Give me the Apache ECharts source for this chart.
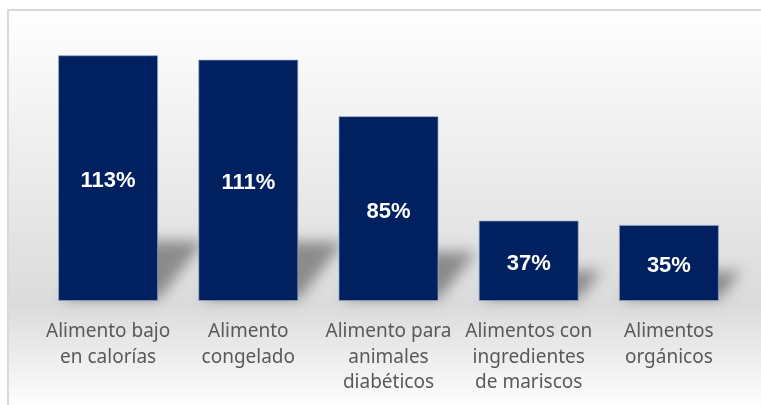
<!DOCTYPE html>
<html>
<head>
<meta charset="utf-8">
<script src="https://cdn.jsdelivr.net/npm/echarts@6/dist/echarts.min.js"></script>
<style>html,body{margin:0;padding:0;background:#fff;}#c{width:761px;height:405px;}</style>
</head>
<body>
<div id="c"></div>
<script>
const categories = [
  "Alimento bajo\nen calorías",
  "Alimento\ncongelado",
  "Alimento para\nanimales\ndiabéticos",
  "Alimentos con\ningredientes\nde mariscos",
  "Alimentos\norgánicos"
];
const values = [113, 111, 85, 37, 35];

const chart = echarts.init(document.getElementById('c'));
const BAR_W = 100;
const OFF = 3000;

chart.setOption({
  animation: false,
  graphic: [{
    type: 'rect',
    z: -10,
    silent: true,
    shape: { x: 8, y: 10, width: 780, height: 420 },
    style: {
      fill: {
        type: 'linear', x: 0, y: 0, x2: 0, y2: 1,
        colorStops: [
          { offset: 0, color: '#ffffff' },
          { offset: 0.45, color: '#e8e8e8' },
          { offset: 0.7, color: '#dbdbdb' },
          { offset: 0.95, color: '#ffffff' },
          { offset: 1, color: '#ffffff' }
        ]
      },
      stroke: '#d9d9d9',
      lineWidth: 2
    }
  }],
  grid: { left: 38, right: 22, top: 40, bottom: 104 },
  xAxis: {
    type: 'category',
    data: categories,
    axisLine: { show: false },
    axisTick: { show: false },
    axisLabel: {
      interval: 0,
      margin: 18,
      color: '#595959',
      fontFamily: 'Noto Sans',
      fontSize: 19,
      lineHeight: 25.5
    }
  },
  yAxis: {
    type: 'value', min: 0, max: 120, show: false,
    splitLine: { show: false }
  },
  series: [
    {
      type: 'custom',
      z: 1,
      clip: false,
      silent: true,
      data: values.map((v, i) => [i, v]),
      renderItem: function (params, api) {
        const base = api.coord([api.value(0), 0]);
        const top = api.coord([api.value(0), api.value(1)]);
        const h = base[1] - top[1];
        const sh = 0.18 * h + 14;
        const dx = sh * 0.8;
        const x0 = base[0] - BAR_W / 2 + 4;
        const x1 = base[0] + BAR_W / 2;
        const y0 = base[1] - 2;
        return {
          type: 'polygon',
          shape: {
            points: [
              [x0 - OFF, y0], [x1 - OFF, y0],
              [x1 + dx - OFF, y0 - sh], [x0 + dx - OFF, y0 - sh]
            ]
          },
          style: {
            fill: '#000',
            shadowColor: 'rgba(0,0,0,0.38)',
            shadowBlur: 14,
            shadowOffsetX: OFF,
            shadowOffsetY: 0
          }
        };
      }
    },
    {
      type: 'bar',
      z: 2,
      data: values,
      barWidth: BAR_W,
      itemStyle: {
        color: '#002060',
        borderColor: 'rgba(150,165,195,0.7)',
        borderWidth: 1
      },
      label: {
        show: true,
        position: 'inside',
        offset: [0, 3],
        formatter: '{c}%',
        color: '#ffffff',
        fontFamily: 'Liberation Sans',
        fontWeight: 'bold',
        fontSize: 22
      }
    }
  ]
});
</script>
</body>
</html>
